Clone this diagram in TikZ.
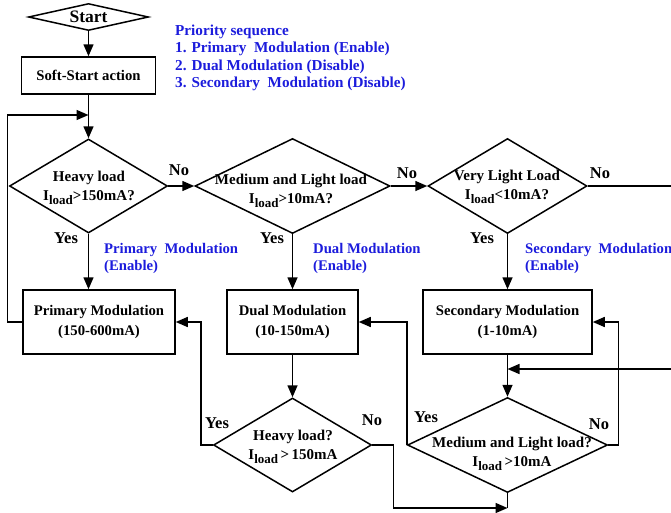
\documentclass[tikz,border=0pt]{standalone}
\usepackage{fontspec}
\setmainfont{Liberation Serif}
\usetikzlibrary{shapes.geometric,arrows.meta}
\definecolor{myblue}{RGB}{28,28,220}
\newcommand{\Iload}{I\raisebox{-4pt}{\fontsize{13}{13}\selectfont load}}
\begin{document}
\begin{tikzpicture}[x=1pt,y=-1pt,
  every node/.style={font=\bfseries\fontsize{14.7}{19.5}\selectfont},
  box/.style={draw, line width=1.5pt, inner sep=0pt},
  dia/.style={draw, diamond, line width=1.5pt, inner sep=0pt},
  txt/.style={align=center, inner sep=0pt, font=\bfseries\fontsize{15}{19.5}\selectfont},
  ln/.style={line width=1.5pt},
  arr/.style={line width=1.5pt, -{Triangle[length=12pt,width=10pt]}},
  bl/.style={text=myblue, align=left, anchor=west, inner sep=0pt, font=\bfseries\fontsize{14.7}{17.5}\selectfont},
  lbl/.style={inner sep=0pt, font=\bfseries\fontsize{16.5}{18}\selectfont}
]
\clip (0,0) rectangle (671,512);
% nodes
\node[dia, minimum width=120pt, minimum height=27pt] (start) at (88.5,17) {};
\node[txt, font=\bfseries\fontsize{17.5}{19}\selectfont] (startt) at (start) {Start};
\node[box, minimum width=134pt, minimum height=37pt] (soft) at (88.5,75.5) {Soft-Start action};

\node[bl, font=\bfseries\fontsize{15.2}{17.5}\selectfont] (prio) at (175,58) {Priority sequence\\1. Primary~ Modulation (Enable)\\2. Dual Modulation (Disable)\\3. Secondary~ Modulation (Disable)};

\node[dia, minimum width=158pt, minimum height=94pt] (d1) at (88.5,186) {};
\node[txt] (d1t) at (89,188) {Heavy load\\\Iload>150mA?};
\node[dia, minimum width=195pt, minimum height=95pt] (d2) at (292.5,186) {};
\node[txt] (d2t) at (291,191) {Medium and Light load\\\Iload>10mA?};
\node[dia, minimum width=159pt, minimum height=95pt] (d3) at (507.5,186) {};
\node[txt] (d3t) at (507,187) {Very Light Load\\\Iload<10mA?};

\node[box, minimum width=152pt, minimum height=64pt, align=center] (prim) at (99,322) {Primary Modulation\\(150-600mA)};
\node[box, minimum width=131pt, minimum height=64pt, align=center] (dual) at (292.5,322) {Dual Modulation\\(10-150mA)};
\node[box, minimum width=169pt, minimum height=64pt, align=center] (sec) at (507.5,322) {Secondary Modulation\\(1-10mA)};

\node[dia, minimum width=158pt, minimum height=94pt] (d4) at (292.5,445) {};
\node[txt] (d4t) at (293,447) {Heavy load?\\\Iload\,>\,150mA};
\node[dia, minimum width=200pt, minimum height=95pt] (d5) at (507.5,445) {};
\node[txt] (d5t) at (512,454) {Medium and Light load?\\\Iload\,>10mA};

% blue notes
\node[bl] (n1) at (104,258.5) {Primary~ Modulation\\(Enable)};
\node[bl] (n2) at (313,258.5) {Dual Modulation\\(Enable)};
\node[bl] (n3) at (525,258.5) {Secondary~ Modulation\\(Enable)};

% labels
\node[lbl] (y1) at (66,238) {Yes};
\node[lbl] (y2) at (272,238) {Yes};
\node[lbl] (y3) at (482,238) {Yes};
\node[lbl] (y4) at (217,423) {Yes};
\node[lbl] (y5) at (426,417) {Yes};
\node[lbl] (no1) at (179,170) {No};
\node[lbl] (no2) at (407,173) {No};
\node[lbl] (no3) at (600,173) {No};
\node[lbl] (no4) at (372,420) {No};
\node[lbl] (no5) at (599,424) {No};

% coordinates
\coordinate (loopin) at (88.5,115);
\coordinate (rt1) at (672,186);
\coordinate (rt2) at (672,369);
\coordinate (mid) at (507.5,369);
\coordinate (bot) at (507.5,508);

% connectors
\draw[arr] (start.south) -- (soft.north);
\draw[arr] (soft.south) -- (d1.north);
\draw[arr] (prim.west) -- ++(-15,0) |- (loopin);
\draw[arr] (d1.east) -- (d2.west);
\draw[arr] (d2.east) -- (d3.west);
\draw[ln] (d3.east) -- (rt1);
\draw[arr] (rt2) -- (mid);
\draw[arr] (d1.south) -- (d1.south |- prim.north);
\draw[arr] (d2.south) -- (dual.north);
\draw[arr] (d3.south) -- (sec.north);
\draw[arr] (dual.south) -- (d4.north);
\draw[arr] (sec.south) -- (d5.north);
\draw[arr] (d4.west) -- ++(-12,0) |- (prim.east);
\draw[arr] (d4.east) -- ++(21,0) |- (bot);
\draw[ln] (d5.south) -- (bot);
\draw[arr] (d5.west) |- (dual.east);
\draw[arr] (d5.east) -- ++(10,0) |- (sec.east);
\end{tikzpicture}
\end{document}
